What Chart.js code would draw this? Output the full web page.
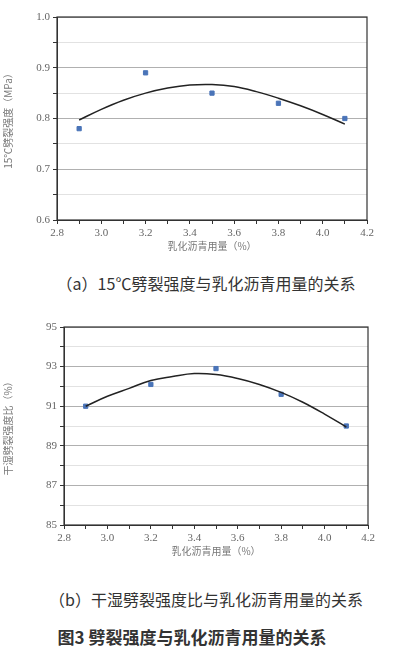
<!DOCTYPE html>
<html lang="zh">
<head>
<meta charset="UTF-8">
<script src="https://cdn.jsdelivr.net/npm/chart.js"></script>
<style>
  body { margin: 0; background: #fff; width: 412px; height: 659px; position: relative; overflow: hidden; }
  canvas { position: absolute; left: 0; }
  .cap { position: absolute; left: 0; width: 412px; text-align: center; font-family: "Noto Sans CJK SC", serif; color: #333; font-size: 16px; white-space: nowrap; }
</style>
</head>
<body>
<canvas id="c1" width="412" height="260" style="top:0"></canvas>
<div class="cap" style="top:271px">（a）15℃劈裂强度与乳化沥青用量的关系</div>
<canvas id="c2" width="412" height="255" style="top:310px"></canvas>
<div class="cap" style="top:587px">（b）干湿劈裂强度比与乳化沥青用量的关系</div>
<div class="cap" style="top:624px;font-size:17px;left:-14px;font-weight:bold">图3  劈裂强度与乳化沥青用量的关系</div>
<script>
const dosage = [2.9, 3.2, 3.5, 3.8, 4.1];
const strength = [0.78, 0.89, 0.85, 0.83, 0.80];
const ratio = [91.0, 92.1, 92.9, 91.6, 90.0];
const fitX = [2.9, 3.0, 3.1, 3.2, 3.3, 3.4, 3.5, 3.6, 3.7, 3.8, 3.9, 4.0, 4.1];
const strengthFit = [0.797, 0.818, 0.836, 0.850, 0.860, 0.866, 0.867, 0.863, 0.853, 0.840, 0.825, 0.808, 0.789];
const ratioFit = [91.0, 91.5, 91.9, 92.3, 92.5, 92.65, 92.6, 92.4, 92.1, 91.7, 91.2, 90.6, 89.95];

const frame = {
  id: 'frame',
  afterDraw(c) {
    const a = c.chartArea, g = c.ctx;
    g.save(); g.strokeStyle = '#333'; g.lineWidth = 1.2;
    g.strokeRect(a.left, a.top, a.right - a.left, a.bottom - a.top);
    g.restore();
  }
};

function make(id, pts, fit, y, pad, yw) {
  const n = Math.round((y.max - y.min) / (y.step / 2));
  new Chart(document.getElementById(id), {
    data: {
      datasets: [
        { type: 'line', data: fitX.map((x, i) => ({x, y: fit[i]})), borderColor: '#222', borderWidth: 1.5, pointRadius: 0, tension: 0.4, fill: false },
        { type: 'scatter', data: dosage.map((x, i) => ({x, y: pts[i]})), pointStyle: 'rect', pointRadius: 3, backgroundColor: '#4a74b8', borderColor: '#4a74b8' }
      ]
    },
    options: {
      responsive: false, animation: false,
      layout: { padding: pad },
      plugins: { legend: { display: false }, tooltip: { enabled: false } },
      scales: {
        x: {
          type: 'linear', min: 2.8, max: 4.2,
          afterBuildTicks: s => { s.ticks = []; for (let i = 0; i <= 14; i++) s.ticks.push({ value: +(2.8 + i * 0.1).toFixed(1) }); },
          ticks: { autoSkip: false, maxRotation: 0, color: '#666', font: { family: 'Liberation Serif', size: 11 },
            callback: (v, i) => i % 2 === 0 ? v.toFixed(1) : '' },
          grid: { drawOnChartArea: false, tickLength: 4, color: '#333' },
          border: { color: '#333' },
          title: { display: true, text: '乳化沥青用量（%）', color: '#777', font: { family: 'Noto Sans CJK SC', size: 10 }, padding: { top: 2 } },
          afterFit: s => { s.height = 36; }
        },
        y: {
          min: y.min, max: y.max,
          afterBuildTicks: s => { s.ticks = []; for (let i = 0; i <= n; i++) s.ticks.push({ value: +(y.min + i * y.step / 2).toFixed(3) }); },
          ticks: { autoSkip: false, color: '#666', font: { family: 'Liberation Serif', size: 11 },
            callback: (v, i) => i % 2 === 0 ? v.toFixed(y.dec) : '' },
          grid: { color: c => c.index % 2 === 0 ? '#b0b0b0' : '#e2e2e2', tickLength: 4, tickColor: '#333' },
          border: { color: '#333' },
          title: { display: true, text: y.title, color: '#777', font: { family: 'Noto Sans CJK SC', size: 10 }, padding: 2 },
          afterFit: s => { s.width = yw; }
        }
      }
    },
    plugins: [frame]
  });
}

make('c1', strength, strengthFit, { min: 0.6, max: 1.0, step: 0.1, dec: 1, title: '15℃劈裂强度（MPa）' }, { top: 17, right: 45, bottom: 4, left: 0 }, 57);
make('c2', ratio, ratioFit, { min: 85, max: 95, step: 2, dec: 0, title: '干湿劈裂强度比（%）' }, { top: 17, right: 44, bottom: 4, left: 0 }, 64);
</script>
</body>
</html>
